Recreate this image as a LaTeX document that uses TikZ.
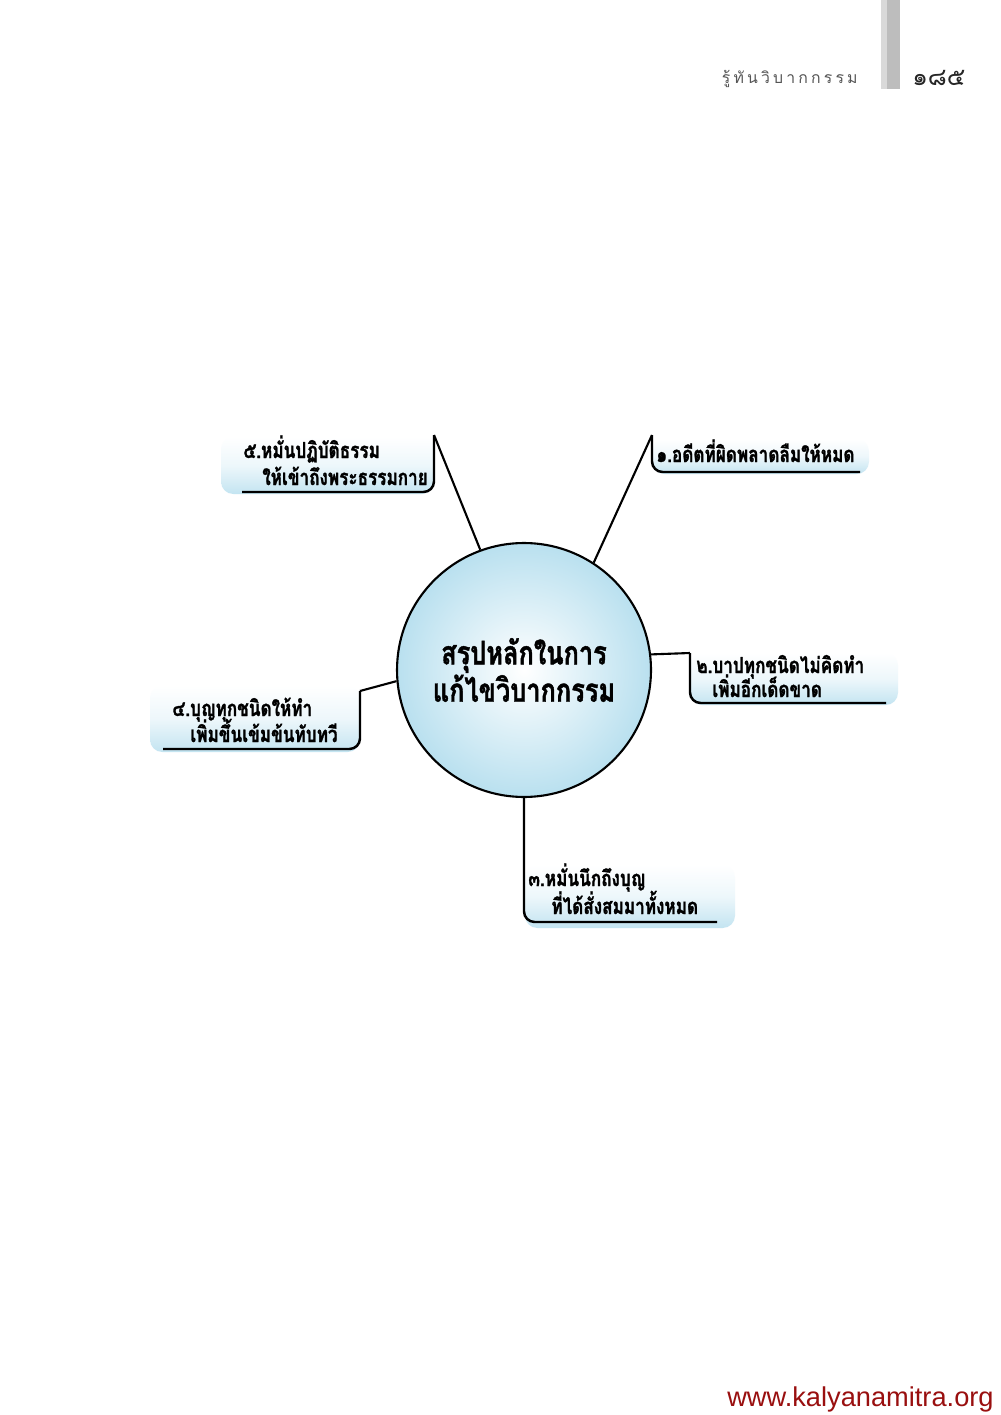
\documentclass[tikz,border=0pt]{standalone}
\usepackage{fontspec}
\setmainfont{Liberation Sans}
\newfontfamily\thaifont[Script=Thai]{Loma}
\newfontfamily\thaicond[Script=Thai,FakeStretch=0.78,BoldFeatures={FakeBold=1.2}]{Loma}
\newfontfamily\thaihead[Script=Thai,LetterSpace=20]{Loma}
\definecolor{boxblue}{HTML}{C3E4F1}
\definecolor{ballblue}{HTML}{B9E0EF}
\definecolor{webred}{HTML}{990F0F}
\definecolor{barlight}{HTML}{D9D9D9}
\definecolor{bardark}{HTML}{BDBDBD}
\definecolor{headgray}{HTML}{555555}
\begin{document}
\begin{tikzpicture}[x=0.02cm,y=-0.02cm,
  boxfill/.style={top color=white, bottom color=boxblue, middle color=white!70!boxblue, rounded corners=7pt},
  boxtext/.style={font=\thaicond\bfseries\fontsize{12.5pt}{14pt}\selectfont, anchor=base west, inner sep=0pt},
  link/.style={line width=1.2pt, black},
  bottomline/.style={line width=1.4pt, black, rounded corners=6pt}]
\fill[white] (0,0) rectangle (1000,1415);
\useasboundingbox (0,0) rectangle (1000,1415);
% header
\fill[barlight] (881,0) rectangle (887,89);
\fill[bardark] (887,0) rectangle (900,89);
\node[font=\thaihead\fontsize{9pt}{10pt}\selectfont, text=headgray, anchor=base east, inner sep=0pt] (hd) at (858,84) {รู้ทันวิบากกรรม};
\node[font=\thaifont\fontsize{14pt}{16pt}\selectfont, text=black!85, anchor=base west, inner sep=0pt] (pg) at (912,86) {๑๘๕};
% box fills
\shade[boxfill] (221,437) rectangle (434,494);
\shade[boxfill] (652,439) rectangle (869,474);
\shade[boxfill] (690,653) rectangle (898,705);
\shade[boxfill] (525,865) rectangle (735,928);
\shade[boxfill] (150,686) rectangle (360,752);
% centre circle
\node[circle, draw, line width=1.2pt, minimum size=5.08cm, inner sep=0pt,
  inner color=white, outer color=ballblue, align=center,
  font=\thaicond\bfseries\fontsize{18.5pt}{19.5pt}\selectfont] (c) at (524,670) {สรุปหลักในการ\\แก้ไขวิบากกรรม};
% texts
\node[boxtext] (t5a) at (243,458) {๕.หมั่นปฏิบัติธรรม};
\node[boxtext] (t5b) at (262,485) {ให้เข้าถึงพระธรรมกาย};
\node[boxtext] (t1) at (656,462) {๑.อดีตที่ผิดพลาดลืมให้หมด};
\node[boxtext] (t2a) at (696,673) {๒.บาปทุกชนิดไม่คิดทำ};
\node[boxtext] (t2b) at (712,697) {เพิ่มอีกเด็ดขาด};
\node[boxtext] (t3a) at (528,886) {๓.หมั่นนึกถึงบุญ};
\node[boxtext] (t3b) at (551,914) {ที่ได้สั่งสมมาทั้งหมด};
\node[boxtext] (t4a) at (172,716) {๔.บุญทุกชนิดให้ทำ};
\node[boxtext] (t4b) at (190,742) {เพิ่มขึ้นเข้มข้นทับทวี};
% corner coordinates
\coordinate (k5) at (434,435); \coordinate (e5) at (242,492);
\coordinate (k1) at (652,435); \coordinate (e1) at (860,472);
\coordinate (k2) at (690,653); \coordinate (e2) at (886,703);
\coordinate (e3) at (717,922);
\coordinate (k4) at (360,691); \coordinate (e4) at (163,749);
% connectors
\draw[link] (c.110.4) -- (k5);
\draw[bottomline] (k5) -- (k5 |- e5) -- (e5);
\draw[link] (c.57.2) -- (k1);
\draw[bottomline] (k1) -- (k1 |- e1) -- (e1);
\draw[link] (c.7.6) -- (k2);
\draw[bottomline] (k2) -- (k2 |- e2) -- (e2);
\draw[bottomline] (c.south) -- (c.south |- e3) -- (e3);
\draw[link] (c.185.8) -- (k4);
\draw[bottomline] (k4) -- (k4 |- e4) -- (e4);
% footer
\node[font=\fontsize{15.5pt}{17pt}\selectfont, text=webred, anchor=base east, inner sep=0pt] (web) at (994,1406) {www.kalyanamitra.org};
\end{tikzpicture}
\end{document}
